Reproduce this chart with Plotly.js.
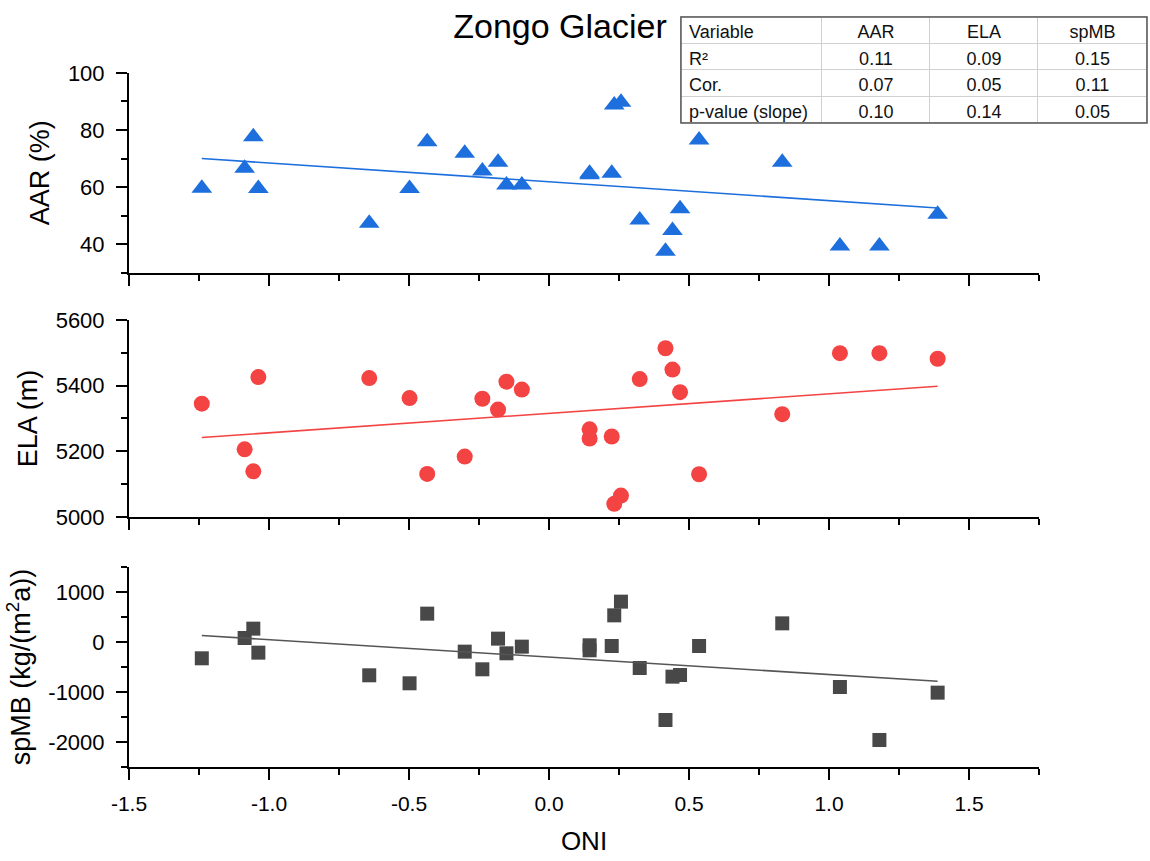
<!DOCTYPE html>
<html>
<head>
<meta charset="utf-8">
<script src="https://cdn.plot.ly/plotly-3.0.1.min.js"></script>
<style>html,body{margin:0;padding:0;background:#fff;}#chart{width:1150px;height:861px;}</style>
</head>
<body>
<div id="chart"></div>
<script>
// ---- data ----
const oni  = [-1.24,-1.087,-1.056,-1.038,-0.642,-0.498,-0.435,-0.301,-0.238,-0.182,-0.152,-0.097,0.145,0.145,0.224,0.233,0.257,0.324,0.416,0.441,0.468,0.536,0.833,1.039,1.18,1.388];
const aar  = [59.6,66.6,77.6,59.5,47.3,59.5,75.9,71.8,65.6,68.7,60.7,60.7,64.8,64.3,64.8,88.8,89.7,48.4,37.5,44.7,52.4,76.5,68.7,39.3,39.3,50.4];
const ela  = [5345,5206,5139,5426,5423,5362,5131,5184,5360,5327,5412,5388,5267,5239,5245,5040,5065,5420,5514,5449,5380,5130,5313,5499,5499,5482];
const spmb = [-326,80,267,-213,-666,-826,567,-193,-546,67,-226,-93,-66,-166,-80,533,807,-520,-1560,-693,-660,-80,373,-900,-1960,-1013];

// table
const tableHeader    = ['Variable','AAR','ELA','spMB'];
const tableRowLabels = ['R²','Cor.','p-value (slope)'];
const aarStats       = ['0.11','0.07','0.10'];
const elaStats       = ['0.09','0.05','0.14'];
const spmbStats      = ['0.15','0.11','0.05'];

// ticks
const xTickVals  = [-1.5,-1,-0.5,0,0.5,1,1.5];
const xTickText  = ['-1.5','-1.0','-0.5','0.0','0.5','1.0','1.5'];
const aarTicks   = [40,60,80,100];
const elaTicks   = [5000,5200,5400,5600];
const spTickVals = [-2000,-1000,0,1000];
const spTickText = ['-2000','-1000','0','1000'];

// ---- helpers ----
function linfit(x, y){
  const n = x.length;
  const mx = x.reduce((a,b)=>a+b,0)/n, my = y.reduce((a,b)=>a+b,0)/n;
  let sxx=0, sxy=0;
  for(let i=0;i<n;i++){ sxx+=(x[i]-mx)**2; sxy+=(x[i]-mx)*(y[i]-my); }
  const b = sxy/sxx, a = my-b*mx;
  const x0 = Math.min(...x), x1 = Math.max(...x);
  return {x:[x0,x1], y:[a+b*x0, a+b*x1]};
}

const F = 'Liberation Sans, Arial, Helvetica, sans-serif';
const BLUE = '#1d6fdd', RED = '#f44343', GRAY = '#484848';

const fa = linfit(oni, aar), fe = linfit(oni, ela), fs = linfit(oni, spmb);

const traces = [
  {type:'scatter', mode:'markers', x:oni, y:aar, xaxis:'x', yaxis:'y',
   marker:{symbol:'triangle-up', size:18, color:BLUE, line:{width:0}}},
  {type:'scatter', mode:'lines', x:fa.x, y:fa.y, xaxis:'x', yaxis:'y', line:{color:BLUE, width:1.6}},
  {type:'scatter', mode:'markers', x:oni, y:ela, xaxis:'x2', yaxis:'y2',
   marker:{symbol:'circle', size:16, color:RED, line:{width:0}}},
  {type:'scatter', mode:'lines', x:fe.x, y:fe.y, xaxis:'x2', yaxis:'y2', line:{color:RED, width:1.6}},
  {type:'scatter', mode:'markers', x:oni, y:spmb, xaxis:'x3', yaxis:'y3',
   marker:{symbol:'square', size:14, color:GRAY, line:{width:0}}},
  {type:'scatter', mode:'lines', x:fs.x, y:fs.y, xaxis:'x3', yaxis:'y3', line:{color:'#555', width:1.6}},
  {type:'table', domain:{x:[0.5422,1.0], y:[0.8507,0.9908]},
   columnwidth:[141,108,108,109],
   header:{values:tableHeader, align:['left','center','center','center'],
           height:26.5, fill:{color:'white'}, line:{color:'#d0d0d0', width:1},
           font:{family:F, size:18, color:'#111'}},
   cells:{values:[tableRowLabels, aarStats, elaStats, spmbStats],
          align:['left','center','center','center'],
          height:26.5, fill:{color:'white'}, line:{color:'#d0d0d0', width:1},
          font:{family:F, size:18, color:'#111'}}}
];

const XD = [0, 910/1018];
const xbase = {
  range:[-1.5,1.75], tickmode:'array', tickvals:xTickVals, ticktext:xTickText,
  ticks:'outside', ticklen:11, tickwidth:2, tickcolor:'#000',
  minor:{tickmode:'linear', tick0:0, dtick:0.25, ticks:'outside', ticklen:6, tickwidth:2, tickcolor:'#000'},
  showline:true, linewidth:2, linecolor:'#000', showgrid:false, zeroline:false,
  domain:XD, tickfont:{family:F, size:21, color:'#000'}, ticklabelstandoff:6
};
const ybase = {
  ticks:'outside', ticklen:11, tickwidth:2, tickcolor:'#000',
  showline:true, linewidth:2, linecolor:'#000', showgrid:false, zeroline:false,
  tickfont:{family:F, size:22, color:'#000'}, ticklabelstandoff:7
};
const ytitle = (t)=>({text:t, font:{family:F, size:27, color:'#000'}, standoff:10});

const layout = {
  width:1150, height:861,
  margin:{l:129, r:3, t:10, b:94},
  paper_bgcolor:'white', plot_bgcolor:'white',
  showlegend:false,
  font:{family:F, color:'#000'},
  title:{text:'Zongo Glacier', font:{family:F, size:34, color:'#000'},
         xref:'container', x:560/1150, xanchor:'center',
         yref:'container', y:1-26/861, yanchor:'middle'},
  xaxis: Object.assign({}, xbase, {anchor:'y', showticklabels:false}),
  xaxis2: Object.assign({}, xbase, {anchor:'y2', showticklabels:false}),
  xaxis3: Object.assign({}, xbase, {anchor:'y3', showticklabels:true,
          title:{text:'ONI', font:{family:F, size:26, color:'#000'}, standoff:18}}),
  yaxis: Object.assign({}, ybase, {anchor:'x', domain:[0.6532,0.9168], range:[30,100],
          tickmode:'array', tickvals:aarTicks,
          minor:{tickmode:'linear', tick0:0, dtick:10, ticks:'outside', ticklen:6, tickwidth:2, tickcolor:'#000'},
          title:ytitle('AAR (%)')}),
  yaxis2: Object.assign({}, ybase, {anchor:'x2', domain:[0.3303,0.5905], range:[5000,5600],
          tickmode:'array', tickvals:elaTicks,
          minor:{tickmode:'linear', tick0:0, dtick:100, ticks:'outside', ticklen:6, tickwidth:2, tickcolor:'#000'},
          title:ytitle('ELA (m)')}),
  yaxis3: Object.assign({}, ybase, {anchor:'x3', domain:[0,0.2642], range:[-2500,1500],
          tickmode:'array', tickvals:spTickVals, ticktext:spTickText,
          minor:{tickmode:'linear', tick0:0, dtick:500, ticks:'outside', ticklen:6, tickwidth:2, tickcolor:'#000'},
          title:ytitle('spMB (kg/(m<sup>2</sup>a))')}),
  shapes:[
    {type:'rect', xref:'paper', yref:'paper', x0:0.5422, x1:1.0, y0:0.8507, y1:0.9908,
     line:{color:'#555', width:1.5}, fillcolor:'rgba(0,0,0,0)', layer:'above'}
  ]
};

Plotly.newPlot('chart', traces, layout, {staticPlot:true, displayModeBar:false});
</script>
</body>
</html>
